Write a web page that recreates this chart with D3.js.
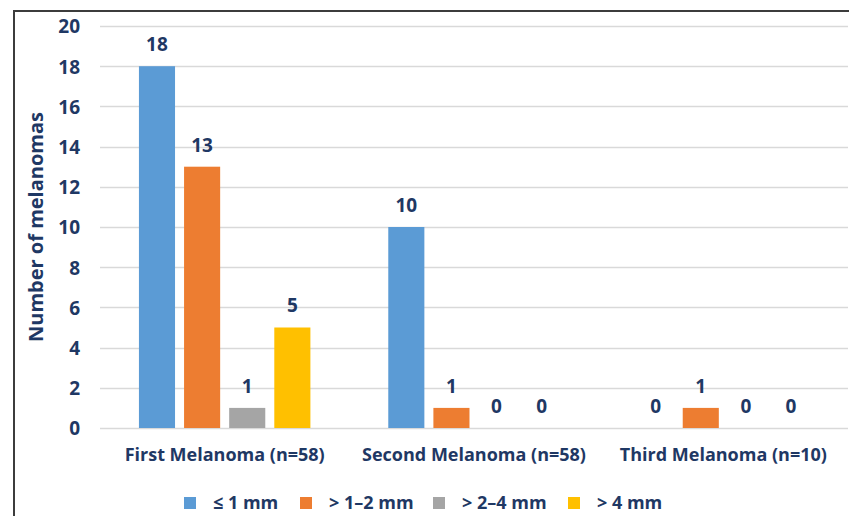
<!DOCTYPE html>
<html><head><meta charset="utf-8">
<script src="https://cdn.jsdelivr.net/npm/d3@7"></script>
<style>
html,body{margin:0;padding:0;background:#fff;}
svg{display:block;}
text{font-family:"Open Sans", Lato, sans-serif;font-weight:700;fill:#1F3864;}
</style></head>
<body>
<svg id="chart" width="849" height="516"></svg>
<script>
const categories = ["First Melanoma (n=58)", "Second Melanoma (n=58)", "Third Melanoma (n=10)"];
const seriesNames = ["\u2264 1 mm", "> 1\u20132 mm", "> 2\u20134 mm", "> 4 mm"];
const seriesColors = ["#5B9BD5", "#ED7D31", "#A5A5A5", "#FFC000"];
const le1mm = [18, 10, 0];
const gt1to2mm = [13, 1, 1];
const gt2to4mm = [1, 0, 0];
const gt4mm = [5, 0, 0];
const yTicks = [0, 2, 4, 6, 8, 10, 12, 14, 16, 18, 20];
const yTitle = "Number of melanomas";

const FS_NUM = 19, FS_TXT = 18, FS_TITLE = 20;
const seriesValues = [le1mm, gt1to2mm, gt2to4mm, gt4mm];
const svg = d3.select("#chart");

// frame
svg.append("path").attr("d", "M14,516 V11 H849").attr("fill", "none")
  .attr("stroke", "#3c3c3c").attr("stroke-width", 2);

const plot = {left: 100, right: 848, top: 26, bottom: 428};
const y = d3.scaleLinear().domain([0, 20]).range([plot.bottom, plot.top]);
const x0 = d3.scaleBand().domain(categories).range([plot.left, plot.right]).padding(0);
const x1 = d3.scaleBand().domain(seriesNames).range([0, x0.bandwidth()])
  .paddingInner(0.2).paddingOuter(0.863);

// gridlines
svg.append("g").selectAll("line").data(yTicks).join("line")
  .attr("x1", plot.left).attr("x2", plot.right)
  .attr("y1", d => Math.round(y(d)) + 0.5).attr("y2", d => Math.round(y(d)) + 0.5)
  .attr("stroke", "#d9d9d9").attr("stroke-width", 1.5);

// y axis labels
const yAxis = d3.axisLeft(y).tickValues(yTicks).tickSize(0).tickPadding(0);
const yg = svg.append("g").attr("transform", "translate(80,0)").call(yAxis);
yg.select(".domain").remove();
yg.selectAll("text").attr("font-size", FS_NUM).attr("font-family", null).attr("fill", "#1F3864")
  .attr("dy", "0.36em");

// y title
svg.append("text").attr("transform", "translate(43," + ((plot.top + plot.bottom) / 2) + ") rotate(-90)")
  .attr("text-anchor", "middle").attr("font-size", FS_TITLE).text(yTitle);

// bars
const data = [];
categories.forEach((c, ci) => seriesNames.forEach((s, si) => data.push({c, s, si, v: seriesValues[si][ci]})));

svg.append("g").selectAll("rect").data(data.filter(d => d.v > 0)).join("rect")
  .attr("x", d => x0(d.c) + x1(d.s)).attr("width", x1.bandwidth())
  .attr("y", d => y(d.v)).attr("height", d => y(0) - y(d.v))
  .attr("fill", d => seriesColors[d.si]);

// value labels
svg.append("g").selectAll("text").data(data).join("text")
  .attr("x", d => x0(d.c) + x1(d.s) + x1.bandwidth() / 2)
  .attr("y", d => y(d.v) - 22).attr("dy", "0.36em")
  .attr("text-anchor", "middle").attr("font-size", FS_NUM).text(d => d.v);

// x axis labels
const xAxis = d3.axisBottom(x0).tickSize(0).tickPadding(0);
const xg = svg.append("g").attr("transform", "translate(0,455)").call(xAxis);
xg.select(".domain").remove();
xg.selectAll("text").attr("font-size", FS_TXT).attr("font-family", null).attr("fill", "#1F3864")
  .attr("dy", "0.36em");

// legend
const legendX = [184, 300, 433, 568];
const lg = svg.append("g").selectAll("g").data(seriesNames).join("g")
  .attr("transform", (d, i) => "translate(" + legendX[i] + ",503)");
lg.append("rect").attr("x", 0).attr("y", -6).attr("width", 12).attr("height", 12)
  .attr("fill", (d, i) => seriesColors[i]);
lg.append("text").attr("x", 29).attr("dy", "0.36em").attr("font-size", FS_TXT).text(d => d);
</script>
</body></html>
